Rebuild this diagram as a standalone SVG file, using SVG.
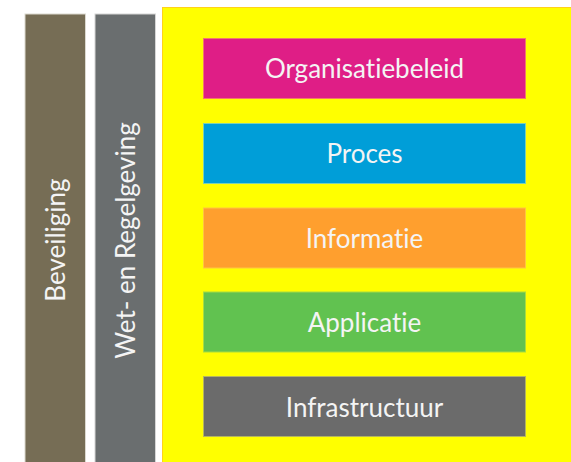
<svg xmlns="http://www.w3.org/2000/svg" width="571" height="462" viewBox="0 0 571 462">
<style>
.lbl{font-family:Lato,"Open Sans","Liberation Sans",sans-serif;font-size:26px;fill:#F4F4F4;text-anchor:middle;font-variant-ligatures:none;font-feature-settings:"liga" 0,"dlig" 0,"clig" 0}
.box{stroke-width:1}
</style>
<rect width="571" height="462" fill="#FFFFFF"/>
<g id="beveiliging">
<rect x="25" y="14" width="60.5" height="450" fill="#766D55" stroke="#DCD9D0" stroke-width="1"/>
<text class="lbl" transform="translate(64.5,240) rotate(-90)">Beveiliging</text>
</g>
<g id="wetgeving">
<rect x="95" y="14" width="60.5" height="450" fill="#6A6E6F" stroke="#D6D6D6" stroke-width="1"/>
<text class="lbl" transform="translate(134.5,240.5) rotate(-90)">Wet- en Regelgeving</text>
</g>
<g id="kader">
<rect x="162.5" y="7.5" width="412" height="460" fill="#FFFF00" stroke="#FFD21A" stroke-width="1"/>
</g>
<g id="organisatiebeleid">
<rect class="box" x="203.5" y="38.5" width="322" height="60" fill="#DF1E86" stroke="#F07A6A"/>
<text class="lbl" x="364.5" y="78">Organisatiebeleid</text>
</g>
<g id="proces">
<rect class="box" x="203.5" y="123.5" width="322" height="60" fill="#009ED8" stroke="#7FD0B0"/>
<text class="lbl" x="364.5" y="163">Proces</text>
</g>
<g id="informatie">
<rect class="box" x="203.5" y="208" width="322" height="60" fill="#FF9F2E" stroke="#FFC540"/>
<text class="lbl" x="364.5" y="248">Informatie</text>
</g>
<g id="applicatie">
<rect class="box" x="203.5" y="292" width="322" height="60" fill="#61C250" stroke="#A8DC40"/>
<text class="lbl" x="364.5" y="332">Applicatie</text>
</g>
<g id="infrastructuur">
<rect class="box" x="203.5" y="376.5" width="322" height="60" fill="#6B6B6B" stroke="#B4B460"/>
<text class="lbl" x="364.5" y="416.5">Infrastructuur</text>
</g>
<g id="connectors"></g>
</svg>
